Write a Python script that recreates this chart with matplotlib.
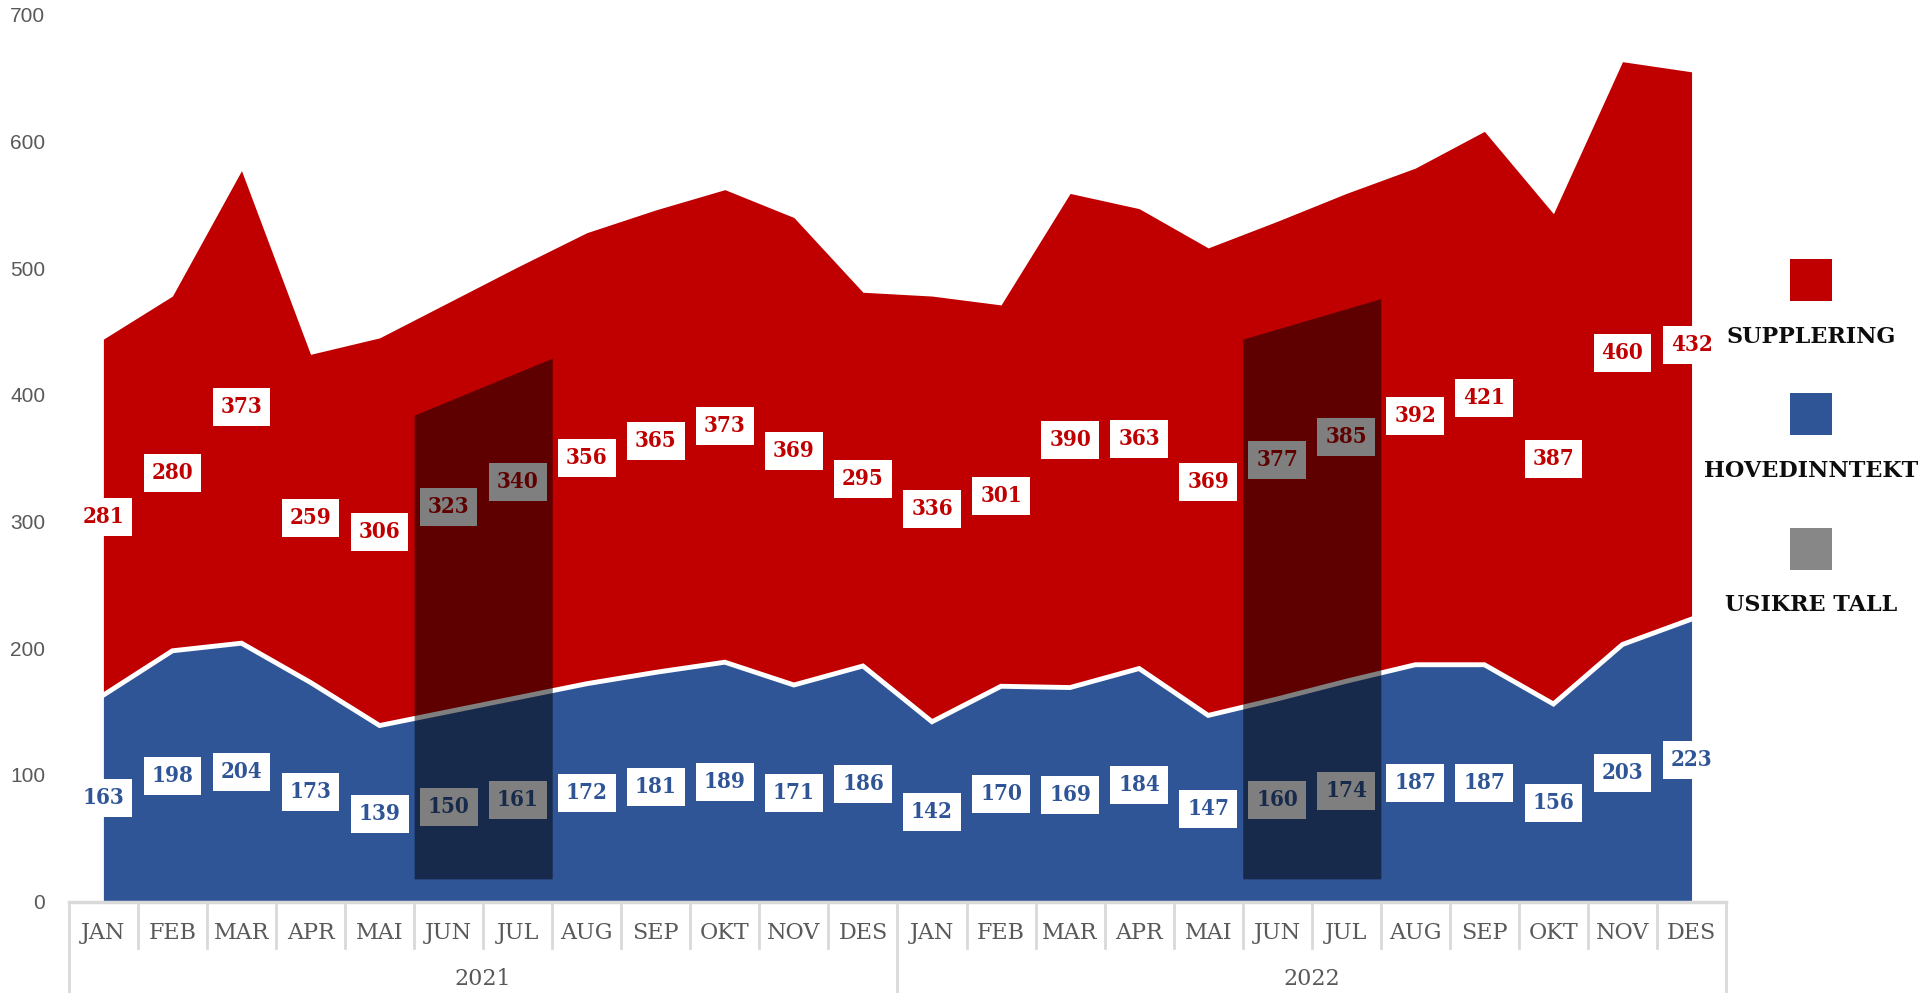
import matplotlib.pyplot as plt
import numpy as np
from matplotlib.patches import Rectangle
from matplotlib.lines import Line2D

months = ["JAN", "FEB", "MAR", "APR", "MAI", "JUN", "JUL", "AUG", "SEP", "OKT", "NOV", "DES"] * 2
years = ["2021", "2022"]

hovedinntekt = [163, 198, 204, 173, 139, 150, 161, 172, 181, 189, 171, 186,
                142, 170, 169, 184, 147, 160, 174, 187, 187, 156, 203, 223]
supplering = [281, 280, 373, 259, 306, 323, 340, 356, 365, 373, 369, 295,
              336, 301, 390, 363, 369, 377, 385, 392, 421, 387, 460, 432]

# usikre tall: JUN-JUL each year (index of first/last month, top at each end)
usikre_first = [5, 17]
usikre_last = [6, 18]
usikre_top_start = [384, 444]
usikre_top_end = [429, 476]
usikre_bottom = 18

RED = "#C00000"
BLUE = "#2F5597"
GRAY = "#595959"
LINE = "#D9D9D9"

SERIF = ["DejaVu Serif", "Liberation Serif"]


def main():
    fig = plt.figure(figsize=(19.29, 9.93), dpi=100)
    ax = fig.add_axes([0.0357, 0.0920, 0.8591, 0.8931])

    x = np.arange(len(months))
    hoved = np.array(hovedinntekt)
    total = hoved + np.array(supplering)

    ax.fill_between(x, 0.6, hoved, color=BLUE, lw=0, zorder=1)
    ax.fill_between(x, hoved, total, color=RED, lw=0, zorder=1)
    ax.plot(x, hoved, color="white", lw=3.5, zorder=2, solid_joinstyle="miter")

    box = dict(boxstyle="square,pad=0.36", fc="white", ec="none")
    for i in x:
        ax.text(i, hoved[i] / 2, str(hoved[i]), ha="center", va="center", color=BLUE,
                fontsize=16, fontweight="bold", family=SERIF, fontstretch="condensed",
                bbox=box, zorder=3)
        ax.text(i, hoved[i] + supplering[i] / 2, str(supplering[i]), ha="center", va="center",
                color=RED, fontsize=16, fontweight="bold", family=SERIF, fontstretch="condensed",
                bbox=box, zorder=3)

    for a, b, t0, t1 in zip(usikre_first, usikre_last, usikre_top_start, usikre_top_end):
        ax.fill_between([a - 0.5, b + 0.5], [usikre_bottom] * 2, [t0, t1],
                        color="black", alpha=0.5, lw=0, zorder=5)

    ax.set_xlim(-0.5, len(months) - 0.5)
    ax.set_ylim(0, 700)
    ax.set_yticks(range(0, 701, 100))
    ax.tick_params(axis="y", length=0, pad=17, labelsize=15, labelcolor=GRAY)
    for lab in ax.get_yticklabels():
        lab.set_family(["Liberation Sans Narrow", "Liberation Sans", "DejaVu Sans"])
    ax.set_xticks([])
    for s in ax.spines.values():
        s.set_visible(False)

    # two-level category axis
    trans = ax.get_xaxis_transform()
    ax.add_line(Line2D([-0.5, len(months) - 0.5], [0, 0], transform=trans, color=LINE,
                       lw=2.5, clip_on=False, zorder=6))
    for i in range(len(months) + 1):
        bottom = -0.103 if i % 12 == 0 else -0.052
        ax.add_line(Line2D([i - 0.5, i - 0.5], [0, bottom], transform=trans, color=LINE,
                           lw=2, clip_on=False))
    for i, m in enumerate(months):
        ax.text(i, -0.0352, m, transform=trans, ha="center", va="center", color=GRAY,
                fontsize=16, family=SERIF)
    for k, yr in enumerate(years):
        ax.text(k * 12 + 5.5, -0.087, yr, transform=trans, ha="center", va="center",
                color=GRAY, fontsize=16, family=SERIF)

    # legend
    W, H = 1929, 993
    legend = [("SUPPLERING", RED, 280, 337), ("HOVEDINNTEKT", BLUE, 414, 471),
              ("USIKRE TALL", "#878787", 549, 605)]
    cx = 1811
    for name, col, py, ty in legend:
        fig.add_artist(Rectangle(((cx - 21) / W, 1 - (py + 21) / H), 42 / W, 42 / H,
                                 transform=fig.transFigure, color=col, lw=0))
        fig.text(cx / W, 1 - ty / H, name, ha="center", va="center", color="#0D0D0D",
                 fontsize=16, fontweight="heavy", family=SERIF)

    fig.savefig("out.png", dpi=100)


if __name__ == "__main__":
    main()
